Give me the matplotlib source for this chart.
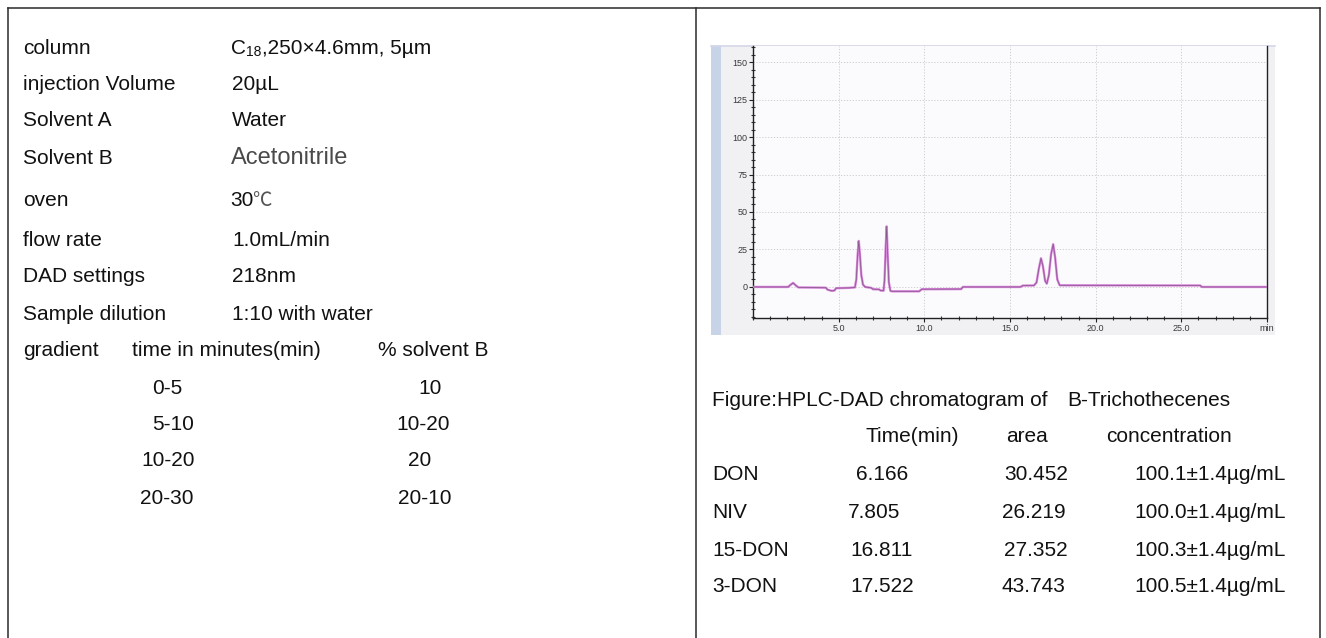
import matplotlib
matplotlib.use("Agg")
import matplotlib.pyplot as plt
from matplotlib.patches import Rectangle
from matplotlib.ticker import MultipleLocator

plt.rcParams['font.family'] = ['Liberation Sans', 'Noto Sans CJK SC', 'DejaVu Sans']

# ---- data ----
param_labels = ['column', 'injection Volume', 'Solvent A', 'Solvent B', 'oven',
                'flow rate', 'DAD settings', 'Sample dilution']
param_values = ['C18,250×4.6mm, 5µm', '20µL', 'Water', 'Acetonitrile', '30℃',
                '1.0mL/min', '218nm', '1:10 with water']

gradient_times = ['0-5', '5-10', '10-20', '20-30']
gradient_b = ['10', '10-20', '20', '20-10']

compounds = ['DON', 'NIV', '15-DON', '3-DON']
ret_times = [6.166, 7.805, 16.811, 17.522]
areas = [30.452, 26.219, 27.352, 43.743]
conc = [100.1, 100.0, 100.3, 100.5]
conc_err = 1.4

# chromatogram trace (min, signal)
trace_t = [0.0, 2.05, 2.2, 2.34, 2.5, 2.65, 4.25, 4.35, 4.6, 4.75, 4.85, 5.6,
           5.95, 6.03, 6.1, 6.17, 6.24, 6.32, 6.42, 6.55, 6.9, 7.0, 7.35, 7.45, 7.62,
           7.68, 7.74, 7.80, 7.86, 7.93, 8.02, 8.1, 9.7, 9.85, 12.15, 12.25, 15.6, 15.75, 16.4,
           16.55, 16.68, 16.81, 16.92, 17.05, 17.15, 17.27, 17.4, 17.52, 17.63, 17.76, 17.9,
           26.1, 26.2, 30.0]
trace_y = [0.0, 0.0, 1.5, 2.7, 1.0, -0.3, -0.5, -1.8, -2.6, -2.4, -0.8, -0.6,
           -0.3, 5.0, 20.0, 30.7, 22.0, 8.0, 1.5, 0.0, -0.6, -1.5, -1.6, -2.4, -2.5,
           5.0, 25.0, 40.4, 22.0, 3.0, -2.6, -2.9, -2.9, -1.5, -1.4, 0.0, 0.0, 0.9, 1.0,
           3.0, 12.0, 19.1, 14.0, 4.0, 2.2, 8.0, 22.0, 28.5, 20.0, 5.0, 1.1,
           1.0, 0.0, 0.0]

x_ticks = [5, 10, 15, 20, 25, 30]
x_ticklabels = ['5.0', '10.0', '15.0', '20.0', '25.0', 'min']
y_ticks = [0, 25, 50, 75, 100, 125, 150]

# ---- layout (pixels) ----
W, H = 1326, 638
FS = 15
CAP = 7.5  # half cap height in px, to go from row centre to baseline

fig = plt.figure(figsize=(W / 100, H / 100), dpi=100)
bg = fig.add_axes([0, 0, 1, 1])
bg.set_xlim(0, W)
bg.set_ylim(H, 0)
bg.axis('off')

# frame
lw = 1.1
line_c = '#2a2a2a'
bg.plot([7.5, 1320], [7.5, 7.5], color=line_c, lw=lw)
for xx in [7.5, 696, 1320]:
    bg.plot([xx, xx], [7.5, H], color=line_c, lw=lw)


def txt(x, y, s, **kw):
    kw.setdefault('fontsize', FS)
    kw.setdefault('color', '#111111')
    bg.text(x, y + CAP, s, va='baseline', ha='left', **kw)


# left panel: method parameters
row_y = [47, 82, 118, 157, 199, 239, 275, 312]
for lab, val, y in zip(param_labels, param_values, row_y):
    txt(23, y, lab)
    if val.startswith('C18'):
        txt(231, y, 'C')
        txt(246, y + 2, '18', fontsize=10)
        txt(262, y, val[3:])
    elif val == 'Acetonitrile':
        txt(231, y, val, fontsize=17, color='#4a4a4a')
    elif val.endswith('℃'):
        txt(230, y, val[:-1])
        txt(252, y, '℃', fontsize=14, color='#555555',
            family=['Noto Sans CJK SC', 'DejaVu Sans'])
    else:
        txt(232, y, val)

# gradient table
txt(23, 348, 'gradient')
txt(132, 348, 'time in minutes(min)')
txt(378, 348, '% solvent B')
grad_y = [386, 423, 459, 496]
time_x = [152, 152, 141, 140]
b_x = [418, 396, 408, 398]
for t, b, y, tx, bx in zip(gradient_times, gradient_b, grad_y, time_x, b_x):
    txt(tx, y, t)
    txt(bx, y, b)

# right panel: results table
txt(712, 398, 'Figure:HPLC-DAD chromatogram of')
txt(1067, 398, 'B-Trichothecenes')
txt(866, 435, 'Time(min)')
txt(1006, 435, 'area')
txt(1106, 435, 'concentration')
tab_y = [473, 510, 548, 585]
rt_x = [856, 848, 850, 850]
ar_x = [1004, 1002, 1004, 1002]
for name, rt, ar, c, y, rx, ax_ in zip(compounds, ret_times, areas, conc, tab_y, rt_x, ar_x):
    txt(712, y, name)
    txt(rx, y, f'{rt:.3f}')
    txt(ax_, y, f'{ar:.3f}')
    txt(1134, y, f'{c:.1f}±{conc_err}µg/mL')

# chromatogram screenshot-like panel
bg.add_patch(Rectangle((711, 45), 1275 - 711, 335 - 45, facecolor='#f1f1f3',
                       edgecolor='none', zorder=0))
bg.add_patch(Rectangle((711, 45), 10, 335 - 45, facecolor='#c7d4e7',
                       edgecolor='none', zorder=1))
bg.plot([711, 1275], [45.5, 45.5], color='#d6d8ea', lw=1.2, zorder=1)

ax = fig.add_axes([753 / W, 1 - 318 / H, (1267 - 753) / W, (318 - 46) / H])
ax.set_facecolor('#fbfbfd')
ax.set_xlim(0, 30)
ax.set_ylim(-20.7, 160.7)
ax.plot(trace_t, trace_y, color='#d784da', lw=1.7, solid_joinstyle='round', zorder=3)
ax.plot(trace_t, trace_y, color='#7d4f80', lw=0.55, alpha=0.85, zorder=4)

ax.set_xticks(x_ticks)
ax.set_xticklabels(x_ticklabels)
ax.set_yticks(y_ticks)
ax.xaxis.set_minor_locator(MultipleLocator(1))
ax.yaxis.set_minor_locator(MultipleLocator(5))
ax.tick_params(axis='both', which='major', direction='out', length=3, width=0.8,
               labelsize=6.5, labelcolor='#3a3a3a', color='#222222', pad=1)
ax.tick_params(axis='both', which='minor', direction='inout', length=2.5, width=0.8,
               color='#333333')
ax.grid(True, which='major', linestyle=(0, (1.5, 2)), color='#c8c8c8', lw=0.6)
ax.set_axisbelow(True)
ax.spines['top'].set_visible(False)
for s in ['left', 'bottom', 'right']:
    ax.spines[s].set_color('#222222')
    ax.spines[s].set_linewidth(1.0)

fig.savefig('out.png', dpi=100)
